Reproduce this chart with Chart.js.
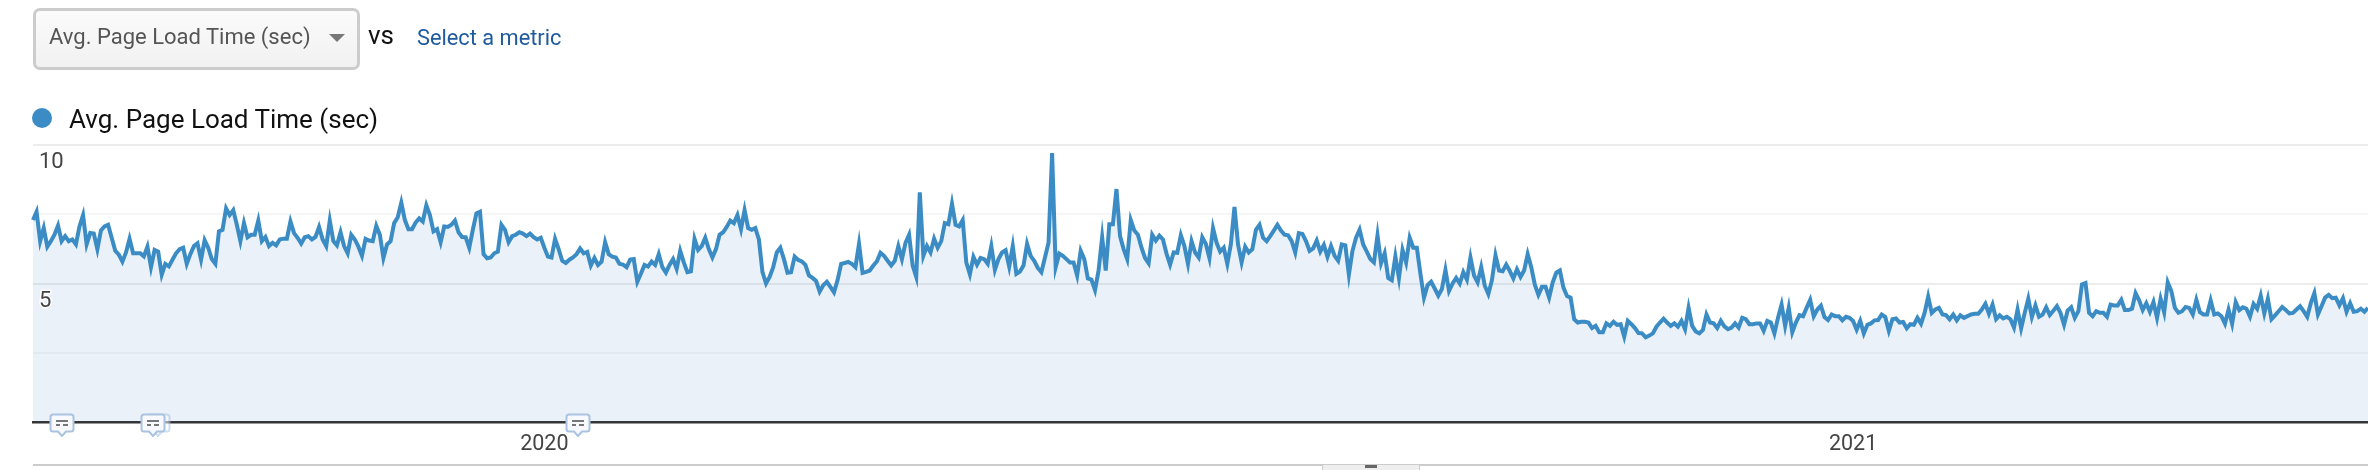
<!DOCTYPE html>
<html>
<head>
<meta charset="utf-8">
<script src="https://cdn.jsdelivr.net/npm/chart.js@4"></script>
<style>
html,body{margin:0;padding:0;background:#fff;width:2368px;height:470px;overflow:hidden;font-family:Roboto,sans-serif}
#c{position:absolute;left:0;top:0}
.abs{position:absolute;white-space:nowrap}
#dd{left:33px;top:8px;width:321px;height:56px;border:3px solid #ccc;border-radius:7px;background:linear-gradient(#fbfbfb,#f1f1f1)}
#ddt{left:49px;top:23px;font-size:22px;line-height:28px;color:#555}
#tri{left:329px;top:34px;width:0;height:0;border-left:8px solid transparent;border-right:8px solid transparent;border-top:8px solid #777}
#vs{left:368px;top:20px;font-size:26px;line-height:30px;color:#111}
#sel{left:417px;top:24px;font-size:21.8px;line-height:28px;color:#1f5a9e}
#dot{left:32px;top:108px;width:20px;height:20px;border-radius:50%;background:#3b8cc4}
#leg{left:69px;top:103px;font-size:26px;line-height:32px;color:#111}
#rule{left:33px;top:464px;width:2335px;height:2px;background:#ccc}
#btn{left:1322px;top:465px;width:96px;height:5px;background:#eee;border-left:1px solid #ccc;border-right:1px solid #ccc}
#btn i{position:absolute;left:42px;top:0;width:12px;height:3px;background:#666}
svg.note{position:absolute;top:413px;width:26px;height:24px}
</style>
</head>
<body>
<canvas id="c" width="2368" height="470"></canvas>
<div class="abs" id="dd"></div>
<div class="abs" id="ddt">Avg. Page Load Time (sec)</div>
<div class="abs" id="tri"></div>
<div class="abs" id="vs">vs</div>
<div class="abs" id="sel">Select a metric</div>
<div class="abs" id="dot"></div>
<div class="abs" id="leg">Avg. Page Load Time (sec)</div>
<div class="abs" id="rule"></div>
<div class="abs" id="btn"><i></i></div>
<svg class="note" style="left:145px;opacity:.55" viewBox="0 0 26 24"><path d="M4 1.500H22Q24.500 1.500 24.500 4V16Q24.500 18.500 22 18.500H17L13 23L9 18.500H4Q1.500 18.500 1.500 16V4Q1.500 1.500 4 1.500Z" fill="#f7f9fc" stroke="#a9c3e0" stroke-width="2"/></svg>
<svg class="note" style="left:49px" viewBox="0 0 26 24"><path d="M4 1.500H22Q24.500 1.500 24.500 4V16Q24.500 18.500 22 18.500H17L13 23L9 18.500H4Q1.500 18.500 1.500 16V4Q1.500 1.500 4 1.500Z" fill="#f7f9fc" stroke="#a9c3e0" stroke-width="2"/><path d="M7 8H19M7 12H11M14 12H19" stroke="#777" stroke-width="2"/></svg>
<svg class="note" style="left:140px" viewBox="0 0 26 24"><path d="M4 1.500H22Q24.500 1.500 24.500 4V16Q24.500 18.500 22 18.500H17L13 23L9 18.500H4Q1.500 18.500 1.500 16V4Q1.500 1.500 4 1.500Z" fill="#f7f9fc" stroke="#a9c3e0" stroke-width="2"/><path d="M7 8H19M7 12H11M14 12H19" stroke="#777" stroke-width="2"/></svg>
<svg class="note" style="left:565px" viewBox="0 0 26 24"><path d="M4 1.500H22Q24.500 1.500 24.500 4V16Q24.500 18.500 22 18.500H17L13 23L9 18.500H4Q1.500 18.500 1.500 16V4Q1.500 1.500 4 1.500Z" fill="#f7f9fc" stroke="#a9c3e0" stroke-width="2"/><path d="M7 8H19M7 12H11M14 12H19" stroke="#777" stroke-width="2"/></svg>
<script>
const metricName = 'Avg. Page Load Time (sec)';
const firstDay = '2019-08-11';
const yTickLabels = { 5: '5', 10: '10' };
const loadTimeSec = [
7.29,7.59,6.53,7.00,6.33,6.53,6.76,7.09,6.53,6.71,6.53,6.59,6.41,7.06,7.47,6.41,6.82,6.80,6.24,6.92,7.06,7.12,6.65,6.18,6.04,5.79,6.12,6.61,6.09,6.09,6.09,5.98,6.33,5.59,6.21,6.15,5.32,5.71,5.62,5.86,6.09,6.24,6.29,5.71,6.06,6.35,6.45,5.86,6.56,6.29,5.88,5.71,6.88,6.94,7.71,7.47,7.65,7.12,6.53,7.18,6.67,6.76,6.76,7.27,6.53,6.68,6.35,6.47,6.38,6.59,6.62,6.62,7.24,
6.82,6.65,6.44,6.67,6.71,6.59,6.68,7.04,6.59,6.35,7.27,6.53,6.38,6.85,6.35,6.09,6.76,6.59,6.33,6.00,6.61,6.55,6.53,7.08,6.76,5.92,6.41,6.53,7.18,7.39,7.92,7.29,6.96,6.96,7.20,7.35,7.24,7.82,7.47,6.88,6.96,6.49,7.06,7.04,7.12,7.27,6.85,6.68,6.67,6.29,6.94,7.53,7.59,6.06,5.91,5.94,6.09,6.15,7.12,6.94,6.49,6.71,6.76,6.85,6.80,6.71,6.80,6.67,6.59,6.65,6.29,5.97,
5.94,6.61,6.24,5.82,5.74,5.86,5.94,6.06,6.26,6.09,6.14,5.65,5.92,5.67,5.79,6.49,6.06,5.97,5.94,5.71,5.68,5.59,5.86,5.88,5.06,5.35,5.67,5.61,5.79,5.67,6.06,5.59,5.39,5.67,5.88,5.53,6.18,5.76,5.41,5.44,6.61,6.21,6.35,6.65,6.24,5.94,6.24,6.76,6.85,7.04,7.27,7.18,7.47,6.96,7.65,7.00,6.94,7.00,6.59,5.41,5.00,5.24,5.59,6.12,6.29,5.88,5.39,5.41,5.97,5.85,5.80,5.67,5.29,5.20,
5.09,4.71,4.94,5.06,4.88,4.68,5.12,5.71,5.74,5.78,5.71,5.59,6.43,5.38,5.42,5.47,5.65,5.80,6.11,6.00,5.82,5.65,5.82,6.35,5.88,6.47,6.76,5.65,5.24,8.29,6.00,6.35,6.12,6.62,6.29,6.53,7.18,7.14,7.88,7.12,7.06,7.29,5.76,5.33,5.96,5.68,5.92,5.88,5.71,6.35,5.49,5.88,6.12,6.20,5.61,6.35,5.35,5.43,5.65,6.43,6.00,5.82,5.56,5.41,5.94,6.47,9.71,5.59,6.08,6.00,5.88,5.76,
5.76,5.29,6.18,5.88,5.18,5.14,4.76,5.47,6.67,5.47,7.14,7.14,8.41,6.71,6.24,5.88,7.29,6.91,6.76,6.29,5.92,5.73,6.76,6.55,6.73,6.59,6.08,5.68,6.12,6.11,6.74,6.35,5.71,6.53,6.12,5.94,6.67,6.43,5.92,7.00,6.47,6.15,6.29,5.71,6.43,7.76,6.41,5.76,6.33,6.12,6.24,6.94,7.12,6.65,6.53,6.71,6.91,7.12,6.91,6.76,6.74,6.53,6.12,6.82,6.79,6.53,6.18,6.27,6.55,6.15,6.39,5.96,6.35,
6.00,5.82,6.41,6.38,5.32,6.18,6.65,6.94,6.41,6.15,5.88,5.76,6.74,5.73,6.09,5.20,5.12,5.98,5.20,6.21,5.76,6.65,6.29,6.29,5.35,4.49,4.94,5.06,4.82,4.56,4.80,5.49,4.73,5.00,5.20,5.00,5.41,5.14,5.94,5.29,5.04,5.59,4.92,4.62,5.12,6.02,5.47,5.44,5.68,5.45,5.18,5.51,5.24,5.47,6.06,5.59,4.96,4.59,4.88,4.88,4.49,5.04,5.39,5.47,4.85,4.55,4.49,3.71,3.59,3.62,3.62,3.59,3.39,
3.47,3.24,3.24,3.56,3.47,3.62,3.51,3.53,3.08,3.65,3.53,3.39,3.21,3.20,3.06,3.12,3.20,3.44,3.59,3.73,3.59,3.47,3.56,3.44,3.65,3.35,4.12,3.47,3.27,3.20,3.32,3.88,3.59,3.56,3.39,3.65,3.45,3.35,3.41,3.56,3.41,3.76,3.71,3.53,3.53,3.56,3.56,3.29,3.65,3.59,3.20,3.76,4.24,3.47,4.12,3.24,3.59,3.86,3.82,4.12,4.41,3.82,4.06,4.20,3.79,3.68,3.88,3.82,3.82,3.67,3.80,3.76,
3.65,3.33,3.65,3.20,3.51,3.56,3.67,3.68,3.88,3.79,3.29,3.71,3.74,3.59,3.61,3.38,3.53,3.51,3.76,3.55,3.94,4.53,3.94,4.06,4.12,3.88,3.86,3.71,3.88,3.67,3.85,3.76,3.82,3.88,3.91,3.91,4.06,4.27,3.91,4.24,3.71,3.85,3.74,3.80,3.71,3.41,4.06,3.38,3.94,4.45,3.79,4.21,3.80,3.88,4.14,3.86,4.02,4.18,3.94,3.51,4.02,4.14,3.76,4.00,4.97,5.02,3.94,3.82,4.00,3.94,3.94,3.80,4.24,
4.21,4.21,4.41,4.04,4.04,4.09,4.65,4.39,4.04,4.29,3.98,4.33,3.76,4.45,3.96,5.04,4.73,4.12,3.94,4.00,4.15,4.12,3.88,4.41,3.96,3.88,3.88,4.39,3.88,3.92,3.82,3.55,4.06,3.55,4.33,4.04,4.14,4.09,3.80,4.26,4.09,4.56,3.92,4.45,3.71,3.85,4.00,4.15,4.04,3.92,3.94,4.06,4.18,4.00,3.80,4.29,4.65,3.88,4.18,4.49,4.59,4.47,4.49,4.21,4.47,3.98,4.29,3.98,4.00,4.09,3.98,4.12
];
const dayLabels = loadTimeSec.map((_, i) => {
  const d = new Date(firstDay + 'T00:00:00Z');
  d.setUTCDate(d.getUTCDate() + i);
  return d.toISOString().slice(0, 10);
});

new Chart(document.getElementById('c'), {
  type: 'line',
  data: {
    labels: dayLabels,
    datasets: [{
      label: metricName,
      data: loadTimeSec,
      borderColor: '#3b8cc4',
      backgroundColor: 'rgba(50,120,190,0.1)',
      borderWidth: 4,
      pointRadius: 0,
      tension: 0,
      fill: 'origin',
      clip: false,
      borderJoinStyle: 'miter'
    }]
  },
  options: {
    responsive: false,
    animation: false,
    layout: { padding: { left: 33, right: 0, top: 145, bottom: 0 } },
    plugins: {
      tooltip: { enabled: false },
      legend: { display: false }
    },
    scales: {
      x: {
        afterFit: s => { s.height = 48; s.paddingLeft = 0; s.paddingRight = 0; },
        grid: { display: false, drawTicks: false },
        border: { display: true, color: '#333', width: 2.5 },
        ticks: {
          autoSkip: false, maxRotation: 0, minRotation: 0, padding: 10,
          color: '#444', font: { family: 'Roboto', size: 21.5 },
          callback(v) {
            const l = this.getLabelForValue(v);
            return l.endsWith('-01-01') ? l.slice(0, 4) : '';
          }
        }
      },
      y: {
        min: 0, max: 10,
        afterFit: s => { s.width = 0; },
        border: { display: false },
        grid: {
          drawTicks: false,
          color: c => c.tick.value === 0 ? 'rgba(0,0,0,0)' : (c.tick.value % 5 === 0 ? '#ececec' : '#f6f6f6'),
          lineWidth: 2
        },
        ticks: {
          stepSize: 2.5, mirror: true, padding: 6, z: 1, autoSkip: false,
          color: '#444', font: { family: 'Roboto', size: 22, lineHeight: '35px' },
          textStrokeColor: '#fff', textStrokeWidth: 3,
          callback: v => yTickLabels[v] ? ['', yTickLabels[v]] : ''
        }
      }
    }
  }
});
</script>
</body>
</html>
